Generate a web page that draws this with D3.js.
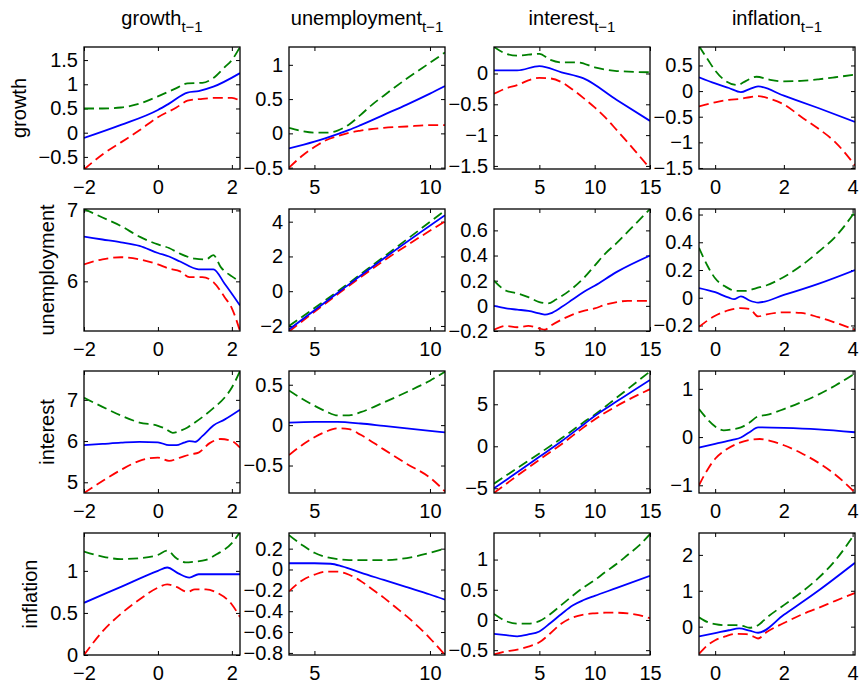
<!DOCTYPE html>
<html>
<head>
<meta charset="utf-8">
<script src="https://cdn.jsdelivr.net/npm/d3@7"></script>
<style>
  body { margin: 0; background: #fff; }
  svg { font-family: "Liberation Sans", Arial, sans-serif; }
  .tick text { font-size: 20px; fill: #000; }
  .tick line { stroke: #000; }
</style>
</head>
<body>
<svg id="chart" width="860" height="685"></svg>
<script>
// variable names (rows = response, columns = lagged regressor)
var vars = ["growth", "unemployment", "interest", "inflation"];

// axis ranges and ticks
var xDomains = [[-2, 2.22], [3.9, 10.65], [0.9, 15], [-0.47, 4.07]];
var xTicks = [[-2, 0, 2], [5, 10], [5, 10, 15], [0, 2, 4]];

var yDomains = [
  [[-0.75, 1.77], [-0.52, 1.26], [-1.55, 0.43], [-1.52, 0.86]],
  [[5.3, 7.02], [-2.29, 4.73], [-0.2, 0.77], [-0.24, 0.64]],
  [[4.74, 7.7], [-0.84, 0.67], [-5.56, 8.96], [-1.16, 1.37]],
  [[0, 1.45], [-0.82, 0.35], [-0.58, 1.44], [-0.79, 2.61]]
];
var yTicks = [
  [[-0.5, 0, 0.5, 1, 1.5], [-0.5, 0, 0.5, 1], [-1.5, -1, -0.5, 0], [-1.5, -1, -0.5, 0, 0.5]],
  [[6, 7], [-2, 0, 2, 4], [-0.2, 0, 0.2, 0.4, 0.6], [-0.2, 0, 0.2, 0.4, 0.6]],
  [[5, 6, 7], [-0.5, 0, 0.5], [-5, 0, 5], [-1, 0, 1]],
  [[0, 0.5, 1], [-0.8, -0.6, -0.4, -0.2, 0, 0.2], [-0.5, 0, 0.5, 1], [0, 1, 2]]
];

// fitted curve (blue), upper band (green), lower band (red) : [x, y]
var fit11 = [[-2,-0.11],[-1,0.16],[0,0.47],[0.3,0.6],[0.8,0.83],[1.1,0.86],[1.5,0.95],[2.22,1.23]];
var up11  = [[-2,0.5],[-1.5,0.5],[-1,0.52],[-0.5,0.6],[0,0.75],[0.5,0.92],[0.8,1.02],[1.2,1.03],[1.5,1.13],[1.8,1.35],[2.0,1.5],[2.22,1.77]];
var lo11  = [[-2,-0.76],[-1.5,-0.45],[-1,-0.2],[-0.5,0.05],[0,0.32],[0.5,0.52],[0.8,0.66],[1.2,0.7],[1.6,0.72],[2.0,0.72],[2.22,0.66]];

var fit12 = [[3.9,-0.22],[5,-0.12],[6,-0.01],[6.5,0.05],[7,0.12],[8,0.27],[9,0.42],[10,0.58],[10.65,0.69]];
var up12  = [[3.9,0.08],[4.5,0.03],[5,0.01],[5.5,0.01],[6,0.04],[6.5,0.13],[7,0.27],[7.5,0.42],[8,0.55],[9,0.8],[10,1.03],[10.65,1.18]];
var lo12  = [[3.9,-0.5],[4.5,-0.32],[5,-0.2],[5.5,-0.1],[6,-0.04],[6.5,0.01],[7,0.04],[8,0.08],[9,0.1],[10,0.12],[10.65,0.12]];

var fit13 = [[0.9,0.05],[3,0.05],[5,0.12],[7,0.02],[9,-0.08],[12,-0.43],[15,-0.77]];
var up13  = [[0.9,0.43],[2,0.32],[3,0.29],[5,0.32],[6,0.22],[7,0.18],[8.5,0.18],[10,0.1],[12,0.04],[15,0.02]];
var lo13  = [[0.9,-0.33],[2,-0.24],[3,-0.19],[4,-0.11],[5,-0.07],[6,-0.08],[7,-0.14],[8,-0.26],[9,-0.4],[10,-0.55],[11,-0.72],[12,-0.92],[13,-1.12],[14,-1.33],[15,-1.54]];

var fit14 = [[-0.47,0.27],[0,0.15],[0.4,0.06],[0.75,-0.02],[1.0,0.04],[1.25,0.09],[2,-0.09],[3,-0.33],[4.07,-0.6]];
var up14  = [[-0.47,0.88],[-0.2,0.6],[0,0.4],[0.3,0.2],[0.65,0.12],[0.9,0.2],[1.2,0.28],[1.6,0.22],[2,0.19],[2.5,0.2],[3,0.23],[3.5,0.27],[4.07,0.32]];
var lo14  = [[-0.47,-0.3],[0,-0.22],[0.4,-0.17],[0.75,-0.15],[1.0,-0.12],[1.25,-0.1],[1.6,-0.15],[2,-0.26],[2.5,-0.5],[3,-0.73],[3.5,-1.0],[4.07,-1.45]];

var fit21 = [[-2,6.63],[-1.5,6.59],[-1,6.55],[-0.5,6.5],[0,6.4],[0.3,6.35],[0.6,6.28],[1.1,6.17],[1.5,6.17],[1.8,5.97],[2.22,5.66]];
var up21  = [[-2,7.02],[-1.5,6.9],[-1,6.78],[-0.5,6.63],[0,6.52],[0.3,6.47],[0.6,6.39],[1.0,6.32],[1.3,6.31],[1.5,6.37],[1.7,6.2],[2.0,6.07],[2.22,6.0]];
var lo21  = [[-2,6.24],[-1.5,6.31],[-1,6.34],[-0.5,6.31],[0,6.24],[0.3,6.18],[0.6,6.14],[0.85,6.06],[1.2,6.06],[1.5,5.99],[1.8,5.78],[2.0,5.62],[2.22,5.3]];

var fit22 = [[3.9,-2.2],[6.1,0],[8,1.88],[10.65,4.37]];
var up22  = [[3.9,-2.0],[6.1,0.08],[8,1.98],[10.65,4.64]];
var lo22  = [[3.9,-2.32],[6.1,-0.08],[8,1.75],[10.65,4.02]];

var fit23 = [[0.9,0.0],[2,-0.02],[3,-0.03],[4,-0.04],[5,-0.06],[5.5,-0.07],[6,-0.06],[7,-0.01],[8,0.05],[9,0.11],[10,0.16],[12,0.27],[15,0.4]];
var up23  = [[0.9,0.2],[2,0.12],[3,0.1],[4,0.07],[5,0.03],[5.8,0.02],[6.5,0.05],[8,0.14],[9,0.22],[10,0.32],[11,0.42],[12,0.5],[13,0.59],[14,0.68],[15,0.77]];
var lo23  = [[0.9,-0.19],[2,-0.16],[3,-0.17],[4,-0.16],[5,-0.18],[5.5,-0.19],[6,-0.16],[7,-0.11],[8,-0.07],[9,-0.04],[10,-0.02],[11,0.01],[12,0.03],[13,0.04],[15,0.04]];

var fit24 = [[-0.47,0.07],[0,0.04],[0.4,0.0],[0.55,-0.01],[0.75,0.01],[1.0,-0.02],[1.25,-0.035],[2,0.02],[3,0.1],[4.07,0.2]];
var up24  = [[-0.47,0.36],[-0.2,0.22],[0,0.14],[0.3,0.08],[0.6,0.05],[0.9,0.05],[1.2,0.07],[1.5,0.09],[2,0.15],[2.5,0.23],[3,0.33],[3.5,0.44],[4.07,0.62]];
var lo24  = [[-0.47,-0.21],[0,-0.13],[0.4,-0.09],[0.75,-0.075],[1.0,-0.08],[1.25,-0.135],[1.5,-0.12],[2,-0.105],[2.5,-0.11],[3,-0.14],[3.5,-0.18],[4.07,-0.23]];

var fit31 = [[-2,5.9],[-1.5,5.93],[-1,5.96],[-0.5,5.98],[0,5.97],[0.3,5.9],[0.5,5.9],[0.7,5.96],[0.85,6.0],[1.0,5.98],[1.2,6.12],[1.5,6.38],[1.8,6.52],[2.22,6.76]];
var up31  = [[-2,7.05],[-1.5,6.83],[-1,6.62],[-0.5,6.45],[0,6.37],[0.2,6.3],[0.4,6.2],[0.6,6.25],[0.8,6.33],[1.0,6.45],[1.3,6.65],[1.5,6.8],[1.8,7.05],[2.0,7.3],[2.22,7.7]];
var lo31  = [[-2,4.74],[-1.5,5.03],[-1,5.3],[-0.5,5.52],[0,5.6],[0.3,5.52],[0.6,5.6],[0.9,5.68],[1.1,5.72],[1.4,5.95],[1.7,6.05],[2.0,6.0],[2.22,5.84]];

var fit32 = [[3.9,0.03],[5,0.04],[6,0.04],[7,0.02],[8,-0.01],[9,-0.04],[10,-0.07],[10.65,-0.09]];
var up32  = [[3.9,0.43],[4.5,0.32],[5,0.24],[5.5,0.17],[6,0.12],[6.5,0.12],[7,0.16],[8,0.28],[9,0.41],[10,0.55],[10.65,0.66]];
var lo32  = [[3.9,-0.37],[4.5,-0.24],[5,-0.15],[5.5,-0.08],[6,-0.04],[6.5,-0.05],[7,-0.12],[8,-0.3],[9,-0.48],[10,-0.65],[10.65,-0.82]];

var fit33 = [[0.9,-5.0],[3,-3.1],[5,-1.25],[7,0.6],[9,2.6],[10,3.6],[12,5.35],[15,7.9]];
var up33  = [[0.9,-4.45],[3,-2.6],[5,-0.85],[7,0.95],[9,2.85],[10,3.75],[12,5.8],[15,8.9]];
var lo33  = [[0.9,-5.55],[3,-3.5],[5,-1.6],[7,0.25],[9,2.25],[10,3.2],[12,4.8],[15,6.8]];

var fit34 = [[-0.47,-0.22],[0,-0.14],[0.5,-0.06],[0.75,-0.01],[1.0,0.1],[1.25,0.2],[2,0.19],[3,0.16],[4.07,0.1]];
var up34  = [[-0.47,0.58],[-0.2,0.35],[0,0.22],[0.25,0.14],[0.5,0.16],[0.75,0.2],[1.0,0.3],[1.25,0.43],[1.5,0.46],[2,0.58],[2.5,0.72],[3,0.88],[3.5,1.07],[4.07,1.32]];
var lo34  = [[-0.47,-1.0],[-0.2,-0.65],[0,-0.45],[0.3,-0.27],[0.6,-0.15],[1.0,-0.06],[1.3,-0.04],[1.6,-0.08],[2,-0.17],[2.5,-0.33],[3,-0.53],[3.5,-0.78],[4.07,-1.15]];

var fit41 = [[-2,0.62],[-1,0.81],[0,1.0],[0.25,1.04],[0.55,0.97],[0.85,0.92],[1.1,0.96],[1.5,0.96],[2.22,0.96]];
var up41  = [[-2,1.23],[-1.5,1.17],[-1,1.14],[-0.5,1.15],[0,1.19],[0.25,1.24],[0.5,1.15],[0.75,1.1],[1.0,1.11],[1.3,1.13],[1.6,1.2],[2.0,1.33],[2.22,1.46]];
var lo41  = [[-2,0.0],[-1.5,0.28],[-1,0.49],[-0.5,0.66],[0,0.8],[0.25,0.84],[0.5,0.81],[0.8,0.75],[1.0,0.78],[1.3,0.78],[1.6,0.74],[2.0,0.6],[2.22,0.45]];

var fit42 = [[3.9,0.06],[5,0.06],[5.7,0.055],[6.2,0.03],[7,-0.03],[8,-0.1],[9,-0.17],[10,-0.24],[10.65,-0.29]];
var up42  = [[3.9,0.33],[4.5,0.23],[5,0.16],[5.5,0.12],[6,0.1],[6.5,0.09],[7,0.09],[8,0.09],[9,0.11],[10,0.16],[10.65,0.2]];
var lo42  = [[3.9,-0.21],[4.5,-0.1],[5,-0.05],[5.5,-0.02],[6,-0.02],[6.5,-0.05],[7,-0.11],[7.5,-0.19],[8,-0.27],[8.5,-0.36],[9,-0.45],[9.5,-0.55],[10,-0.66],[10.65,-0.82]];

var fit43 = [[0.9,-0.23],[2,-0.25],[3,-0.27],[4,-0.24],[5,-0.19],[6,-0.05],[7,0.1],[8,0.24],[9,0.33],[10,0.4],[12,0.53],[15,0.73]];
var up43  = [[0.9,0.1],[2,-0.02],[3,-0.06],[4,-0.06],[5,-0.02],[6,0.1],[7,0.25],[8,0.4],[9,0.54],[10,0.66],[11,0.8],[12,0.93],[13,1.08],[14,1.23],[15,1.42]];
var lo43  = [[0.9,-0.57],[2,-0.52],[3,-0.49],[4,-0.44],[5,-0.37],[6,-0.22],[7,-0.06],[8,0.04],[9,0.09],[10,0.11],[11,0.12],[12,0.12],[13,0.11],[14,0.08],[15,0.03]];

var fit44 = [[-0.47,-0.27],[0,-0.18],[0.4,-0.1],[0.7,-0.05],[1.0,-0.11],[1.25,-0.17],[2,0.33],[3,1.0],[4.07,1.78]];
var up44  = [[-0.47,0.26],[-0.2,0.12],[0,0.07],[0.3,0.04],[0.6,0.04],[0.8,0.02],[1.0,-0.03],[1.25,0.04],[1.5,0.25],[2,0.6],[2.5,0.95],[3,1.35],[3.5,1.85],[4.07,2.6]];
var lo44  = [[-0.47,-0.76],[-0.2,-0.5],[0,-0.38],[0.3,-0.27],[0.6,-0.2],[0.9,-0.21],[1.1,-0.27],[1.25,-0.33],[1.5,-0.15],[2,0.1],[2.5,0.33],[3,0.52],[3.5,0.72],[4.07,0.94]];

var fits = [[fit11, fit12, fit13, fit14], [fit21, fit22, fit23, fit24], [fit31, fit32, fit33, fit34], [fit41, fit42, fit43, fit44]];
var uppers = [[up11, up12, up13, up14], [up21, up22, up23, up24], [up31, up32, up33, up34], [up41, up42, up43, up44]];
var lowers = [[lo11, lo12, lo13, lo14], [lo21, lo22, lo23, lo24], [lo31, lo32, lo33, lo34], [lo41, lo42, lo43, lo44]];

/*
 * LAYOUT
 */
var colLeft = [84, 289, 494, 699];
var rowTop = [47, 209, 371, 533];
var panelW = 156, panelH = 122;
var tickLen = 4;
var fmt = d3.format("~g");

var svg = d3.select("#chart");

// column titles with t-1 subscript
vars.forEach(function(v, j) {
  var t = svg.append("text")
      .attr("x", colLeft[j] + panelW / 2)
      .attr("y", 25)
      .attr("text-anchor", "middle")
      .attr("font-size", 20)
      .text(v);
  t.append("tspan")
      .attr("dy", 7)
      .attr("font-size", 15)
      .text("t\u22121");
});

for (var i = 0; i < 4; i++) {
  for (var j = 0; j < 4; j++) {
    drawPanel(i, j);
  }
}

function drawPanel(i, j) {
  var x = d3.scaleLinear().domain(xDomains[j]).range([0, panelW]);
  var y = d3.scaleLinear().domain(yDomains[i][j]).range([panelH, 0]);

  var g = svg.append("g")
      .attr("transform", "translate(" + colLeft[j] + "," + rowTop[i] + ")");

  var clipId = "clip" + i + j;
  g.append("clipPath").attr("id", clipId)
    .append("rect").attr("width", panelW).attr("height", panelH);

  // axes: inward ticks on all four sides
  g.append("g")
      .attr("transform", "translate(0," + panelH + ")")
      .call(d3.axisBottom(x).tickValues(xTicks[j]).tickFormat(fmt)
        .tickSize(-tickLen).tickPadding(11))
    .select(".domain").remove();
  g.append("g")
      .call(d3.axisTop(x).tickValues(xTicks[j]).tickFormat("").tickSize(-tickLen))
    .select(".domain").remove();
  var yAxis = g.append("g")
      .call(d3.axisLeft(y).tickValues(yTicks[i][j]).tickFormat(fmt)
        .tickSize(-tickLen).tickPadding(6));
  yAxis.select(".domain").remove();
  g.append("g")
      .attr("transform", "translate(" + panelW + ",0)")
      .call(d3.axisRight(y).tickValues(yTicks[i][j]).tickFormat("").tickSize(-tickLen))
    .select(".domain").remove();

  var line = d3.line()
      .x(function(d) { return x(d[0]); })
      .y(function(d) { return y(d[1]); })
      .curve(d3.curveMonotoneX);

  var lines = g.append("g").attr("clip-path", "url(#" + clipId + ")");
  lines.append("path")
      .attr("d", line(uppers[i][j]))
      .attr("fill", "none")
      .attr("stroke", "#008000")
      .attr("stroke-width", 1.8)
      .attr("stroke-dasharray", "10,5");
  lines.append("path")
      .attr("d", line(lowers[i][j]))
      .attr("fill", "none")
      .attr("stroke", "#ff0000")
      .attr("stroke-width", 1.8)
      .attr("stroke-dasharray", "10,5");
  lines.append("path")
      .attr("d", line(fits[i][j]))
      .attr("fill", "none")
      .attr("stroke", "#0000ff")
      .attr("stroke-width", 1.8);

  // box
  g.append("rect")
      .attr("width", panelW)
      .attr("height", panelH)
      .attr("fill", "none")
      .attr("stroke", "#000")
      .attr("stroke-width", 1.3);

  // row label left of the tick labels of the first column
  if (j === 0) {
    var bb = yAxis.node().getBBox();
    svg.append("text")
        .attr("transform", "translate(" + (colLeft[j] + bb.x - 13) + "," + (rowTop[i] + panelH / 2) + ") rotate(-90)")
        .attr("text-anchor", "middle")
        .attr("font-size", 20)
        .text(vars[i]);
  }
}
</script>
</body>
</html>
